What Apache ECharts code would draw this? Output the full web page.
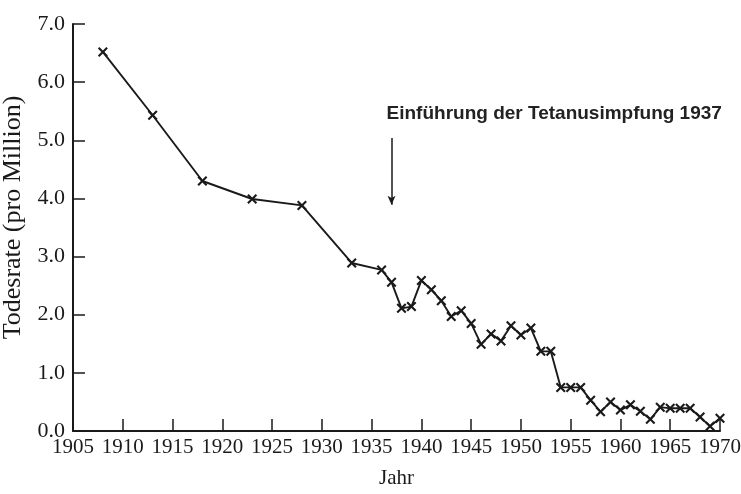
<!DOCTYPE html>
<html>
<head>
<meta charset="utf-8">
<script src="https://cdn.jsdelivr.net/npm/echarts@6/dist/echarts.min.js"></script>
<style>
  html, body { margin: 0; padding: 0; background: #fff; }
  #chart { width: 741px; height: 494px; }
</style>
</head>
<body>
<div id="chart"></div>
<script>
// Todesrate Tetanus (pro Million)
const years = [1908, 1913, 1918, 1923, 1928, 1933, 1936, 1937, 1938, 1939,
  1940, 1941, 1942, 1943, 1944, 1945, 1946, 1947, 1948, 1949,
  1950, 1951, 1952, 1953, 1954, 1955, 1956, 1957, 1958, 1959,
  1960, 1961, 1962, 1963, 1964, 1965, 1966, 1967, 1968, 1969, 1970];
const rates = [6.52, 5.43, 4.30, 3.99, 3.88, 2.89, 2.77, 2.56, 2.11, 2.14,
  2.59, 2.43, 2.24, 1.97, 2.07, 1.85, 1.49, 1.67, 1.55, 1.81,
  1.65, 1.77, 1.37, 1.37, 0.75, 0.75, 0.75, 0.53, 0.33, 0.50,
  0.36, 0.45, 0.34, 0.20, 0.41, 0.39, 0.39, 0.39, 0.24, 0.08, 0.22];

const annotationText = 'Einführung der Tetanusimpfung 1937';
const annotationAt = [1936.5, 5.46];
const arrowFrom = [1937, 5.04];
const arrowTo = [1937, 3.89];

const serif = '"Liberation Serif", "DejaVu Serif", serif';
const ink = '#1a1a1a';

// filled cross, so the marker looks like the hand drawn "x"
const crossSymbol = 'path://M0,1.5L1.5,0L5,3.5L8.5,0L10,1.5L6.5,5L10,8.5L8.5,10L5,6.5L1.5,10L0,8.5L3.5,5Z';

const chart = echarts.init(document.getElementById('chart'));

chart.setOption({
  animation: false,
  backgroundColor: '#fff',
  grid: { left: 73, right: 21, top: 24, bottom: 63, outerBoundsMode: 'none', containLabel: false },
  xAxis: {
    type: 'value',
    min: 1905,
    max: 1970,
    interval: 5,
    name: 'Jahr',
    nameLocation: 'middle',
    nameGap: 37,
    nameTextStyle: { fontFamily: serif, fontSize: 21, color: ink },
    splitLine: { show: false },
    axisLine: { lineStyle: { color: ink, width: 2 } },
    axisTick: { inside: true, length: 12, lineStyle: { color: ink, width: 1.5 } },
    axisLabel: {
      fontFamily: serif, fontSize: 21, color: ink, margin: 6,
      formatter: (v) => String(v),
    },
  },
  yAxis: {
    type: 'value',
    min: 0,
    max: 7,
    interval: 1,
    name: 'Todesrate (pro Million)',
    nameLocation: 'middle',
    nameGap: 40,
    nameTextStyle: { fontFamily: serif, fontSize: 26, color: ink, padding: [0, 0, 0, 20] },
    splitLine: { show: false },
    axisLine: { show: true, lineStyle: { color: ink, width: 2 } },
    axisTick: { show: true, inside: true, length: 12, lineStyle: { color: ink, width: 1.5 } },
    axisLabel: {
      fontFamily: serif, fontSize: 22, color: ink, margin: 8,
      formatter: (v) => v.toFixed(1),
    },
  },
  series: [
    {
      type: 'line',
      data: years.map((y, i) => [y, rates[i]]),
      clip: false,
      symbol: crossSymbol,
      symbolSize: 10,
      itemStyle: { color: ink },
      lineStyle: { color: ink, width: 1.9 },
      markLine: {
        silent: true,
        symbol: ['none', 'arrow'],
        symbolSize: [6, 9],
        label: { show: false },
        lineStyle: { color: ink, width: 1.5, type: 'solid' },
        data: [[{ coord: arrowFrom }, { coord: arrowTo }]],
      },
      markPoint: {
        silent: true,
        symbol: 'circle',
        symbolSize: 0,
        data: [{
          coord: annotationAt,
          label: {
            show: true,
            position: 'inside',
            align: 'left',
            verticalAlign: 'middle',
            formatter: annotationText,
            fontFamily: '"Liberation Sans", Arial, sans-serif',
            fontWeight: 'bold',
            fontSize: 19,
            color: '#222',
          },
        }],
      },
    },
  ],
});

window.addEventListener('resize', () => {
  chart.resize();
});
</script>
</body>
</html>
